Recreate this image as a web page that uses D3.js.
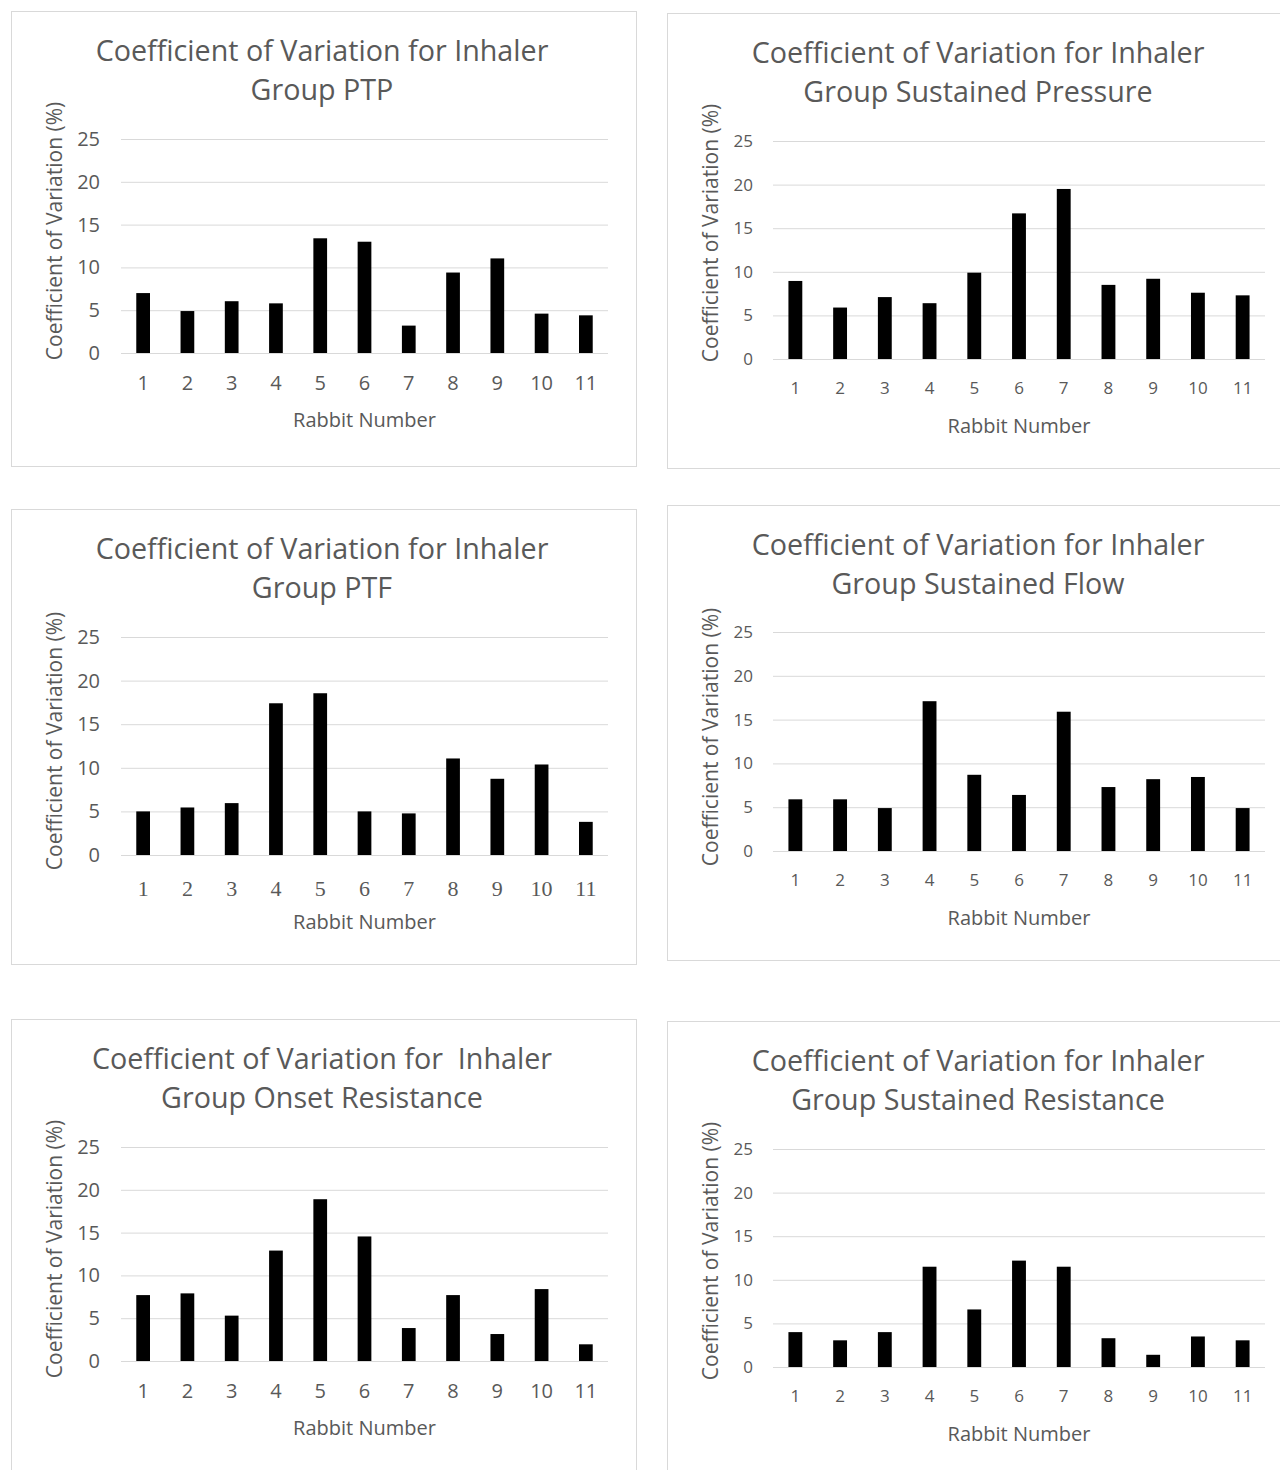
<!DOCTYPE html>
<html>
<head>
<meta charset="utf-8">
<script src="https://cdn.jsdelivr.net/npm/d3@7"></script>
<style>
    body { margin: 0; background: #fff; }
    text { font-family: "Open Sans", sans-serif; fill: #595959; white-space: pre; }
</style>
</head>
<body>
<div id="wrapper"></div>
<script>
// data
const rabbitNumbers = [1, 2, 3, 4, 5, 6, 7, 8, 9, 10, 11];
const yTicks = [0, 5, 10, 15, 20, 25];

const ptpValues = [7.0, 4.9, 6.05, 5.8, 13.4, 13.0, 3.2, 9.4, 11.05, 4.6, 4.4];
const sustainedPressureValues = [8.95, 5.9, 7.1, 6.4, 9.9, 16.7, 19.5, 8.5, 9.2, 7.6, 7.3];
const ptfValues = [5.0, 5.45, 5.95, 17.4, 18.55, 5.0, 4.77, 11.07, 8.74, 10.38, 3.8];
const sustainedFlowValues = [5.9, 5.9, 4.9, 17.1, 8.7, 6.4, 15.9, 7.3, 8.2, 8.45, 4.9];
const onsetResistanceValues = [7.7, 7.9, 5.3, 12.9, 18.9, 14.55, 3.85, 7.7, 3.15, 8.4, 1.95];
const sustainedResistanceValues = [4.0, 3.06, 4.0, 11.5, 6.6, 12.2, 11.5, 3.3, 1.4, 3.5, 3.06];

const titles = [
    ["Coefficient of Variation for Inhaler", "Group PTP"],
    ["Coefficient of Variation for Inhaler", "Group Sustained Pressure"],
    ["Coefficient of Variation for Inhaler", "Group PTF"],
    ["Coefficient of Variation for Inhaler", "Group Sustained Flow"],
    ["Coefficient of Variation for  Inhaler", "Group Onset Resistance"],
    ["Coefficient of Variation for Inhaler", "Group Sustained Resistance"]
];
const xAxisTitle = "Rabbit Number";
const yAxisTitle = "Coefficient of Variation (%)";

const series = [ptpValues, sustainedPressureValues, ptfValues,
    sustainedFlowValues, onsetResistanceValues, sustainedResistanceValues];

// panel frames and plot areas (page pixels)
const left = { boxX: 11, boxW: 625, plotX0: 121, plotX1: 608, titleX: 322, yLabelX: 62, tickFont: 20 };
const right = { boxX: 667, boxW: 640, plotX0: 773, plotX1: 1265, titleX: 978, yLabelX: 718, tickFont: 17 };
const panels = [
    { col: left,  boxY: 11,   boxH: 455, top: 139,  bottom: 353,  yLabelY: 231 },
    { col: right, boxY: 13,   boxH: 455, top: 141,  bottom: 359,  yLabelY: 233 },
    { col: left,  boxY: 509,  boxH: 455, top: 637,  bottom: 855,  yLabelY: 741, serifTicks: true },
    { col: right, boxY: 505,  boxH: 455, top: 632,  bottom: 851,  yLabelY: 737 },
    { col: left,  boxY: 1019, boxH: 470, top: 1147, bottom: 1361, yLabelY: 1249 },
    { col: right, boxY: 1021, boxH: 470, top: 1149, bottom: 1367, yLabelY: 1251 }
];

const svg = d3.select("#wrapper")
    .append("svg")
        .attr("width", 1280)
        .attr("height", 1470);

panels.forEach((p, i) => drawPanel(p, titles[i], series[i]));

function drawPanel(p, title, values) {
    const c = p.col;
    const g = svg.append("g");

    // frame
    g.append("rect")
        .attr("x", c.boxX + 0.5)
        .attr("y", p.boxY + 0.5)
        .attr("width", c.boxW)
        .attr("height", p.boxH)
        .attr("fill", "none")
        .attr("stroke", "#d9d9d9");

    const xScale = d3.scaleBand()
        .domain(rabbitNumbers)
        .range([c.plotX0, c.plotX1])
        .paddingInner(0.69)
        .paddingOuter(0.345);
    const yScale = d3.scaleLinear()
        .domain([0, 25])
        .range([p.bottom, p.top]);

    // gridlines + y tick labels
    const yAxis = g.append("g")
        .attr("transform", `translate(${c.plotX0},0)`)
        .call(d3.axisLeft(yScale).tickValues(yTicks).tickSize(-(c.plotX1 - c.plotX0)).tickPadding(20));
    yAxis.select(".domain").remove();
    yAxis.selectAll(".tick line").attr("stroke", "#d9d9d9").attr("stroke-width", 1);
    yAxis.selectAll(".tick text")
        .style("font-size", c.tickFont + "px")
        .style("font-family", '"Open Sans", sans-serif')
        .attr("fill", "#5f5f5f")
        .attr("x", c === left ? -21 : -20);

    // bars
    g.selectAll("rect.bar")
        .data(values)
        .join("rect")
        .attr("class", "bar")
        .attr("x", (d, j) => xScale(rabbitNumbers[j]))
        .attr("y", d => yScale(d))
        .attr("width", xScale.bandwidth())
        .attr("height", d => yScale(0) - yScale(d))
        .attr("fill", "#000");

    // x tick labels
    const xAxis = g.append("g")
        .attr("transform", `translate(0,${p.bottom})`)
        .call(d3.axisBottom(xScale).tickSize(0).tickPadding(p.serifTicks ? 25 : 23));
    xAxis.select(".domain").remove();
    xAxis.selectAll(".tick text")
        .style("font-size", (p.serifTicks ? 22 : c.tickFont) + "px")
        .style("font-family", p.serifTicks ? '"Liberation Serif", serif' : '"Open Sans", sans-serif')
        .attr("fill", "#5f5f5f");

    // title
    title.forEach((line, k) => {
        g.append("text")
            .attr("x", c.titleX)
            .attr("y", p.boxY + 50 + k * 39)
            .attr("text-anchor", "middle")
            .style("font-size", "28.7px")
            .text(line);
    });

    // axis titles
    g.append("text")
        .attr("x", (c.plotX0 + c.plotX1) / 2)
        .attr("y", p.bottom + 74)
        .attr("text-anchor", "middle")
        .style("font-size", "20px")
        .text(xAxisTitle);

    g.append("text")
        .attr("transform", `translate(${c.yLabelX},${p.yLabelY}) rotate(-90)`)
        .attr("text-anchor", "middle")
        .style("font-size", "21px")
        .text(yAxisTitle);
}
</script>
</body>
</html>
